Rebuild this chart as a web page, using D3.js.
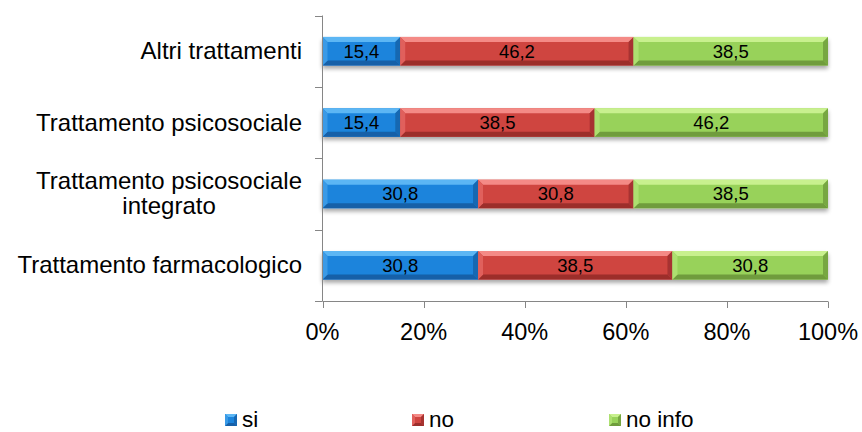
<!DOCTYPE html>
<html>
<head>
<meta charset="utf-8">
<script src="https://cdn.jsdelivr.net/npm/d3@7"></script>
<style>
  html, body { margin: 0; padding: 0; background: #fff; }
  svg { display: block; font-family: "Liberation Sans", Arial, sans-serif; }
</style>
</head>
<body>
<svg id="chart" width="862" height="432"></svg>
<script>
// Categories, top to bottom
const categories = [
  "Altri trattamenti",
  "Trattamento psicosociale",
  "Trattamento psicosociale integrato",
  "Trattamento farmacologico"
];
const seriesNames = ["si", "no", "no info"];
const siValues     = [15.4, 15.4, 30.8, 30.8];
const noValues     = [46.2, 38.5, 30.8, 38.5];
const noInfoValues = [38.5, 46.2, 38.5, 30.8];
const tickLabels = ["0%", "20%", "40%", "60%", "80%", "100%"];

const colors = {
  "si":      { base: "#1b84dc", light: "#5cb6f4", dark: "#1660a8", side: "#3a9ae6" },
  "no":      { base: "#cf4440", light: "#f48a86", dark: "#9c2f2c", side: "#e0605c" },
  "no info": { base: "#98d25a", light: "#c8f08e", dark: "#6f9c3c", side: "#ade070" }
};

const svg = d3.select("#chart");
const x = d3.scaleLinear().domain([0, 1]).range([322.5, 828]);
const y = d3.scaleBand().domain(categories).range([15.5, 301]).paddingInner(0.6).paddingOuter(0.3);
const yTicks = d3.scaleBand().domain(categories).range([15.5, 301]);

// Soft shadow under each bar
const defs = svg.append("defs");
const f = defs.append("filter").attr("id", "shadow").attr("x", "-5%").attr("y", "-20%").attr("width", "110%").attr("height", "160%");
f.append("feGaussianBlur").attr("in", "SourceAlpha").attr("stdDeviation", 2);
f.append("feOffset").attr("dx", 0).attr("dy", 3).attr("result", "b");
f.append("feComponentTransfer").append("feFuncA").attr("type", "linear").attr("slope", 0.35);
const fm = f.append("feMerge");
fm.append("feMergeNode");
fm.append("feMergeNode").attr("in", "SourceGraphic");

// Build stacked rows
const rows = categories.map((c, i) => ({ cat: c, si: siValues[i], no: noValues[i], "no info": noInfoValues[i] }));
const stack = d3.stack().keys(seriesNames);
const stacked = stack(rows);
// total per row for normalization (100% stacked)
const totals = rows.map(r => r.si + r.no + r["no info"]);

const bev = 5;
function drawBevelRect(g, x0, y0, w, h, c, bSize) {
  const b = Math.min(bSize || bev, w / 2, h / 2);
  g.append("rect").attr("x", x0).attr("y", y0).attr("width", w).attr("height", h).attr("fill", c.base);
  // top
  g.append("path").attr("d", `M${x0},${y0}L${x0 + w},${y0}L${x0 + w - b},${y0 + b}L${x0 + b},${y0 + b}Z`).attr("fill", c.light);
  // bottom
  g.append("path").attr("d", `M${x0},${y0 + h}L${x0 + w},${y0 + h}L${x0 + w - b},${y0 + h - b}L${x0 + b},${y0 + h - b}Z`).attr("fill", c.dark);
  // left
  g.append("path").attr("d", `M${x0},${y0}L${x0 + b},${y0 + b}L${x0 + b},${y0 + h - b}L${x0},${y0 + h}Z`).attr("fill", c.side);
  // right
  g.append("path").attr("d", `M${x0 + w},${y0}L${x0 + w - b},${y0 + b}L${x0 + w - b},${y0 + h - b}L${x0 + w},${y0 + h}Z`).attr("fill", c.dark).attr("opacity", 0.8);
}

const barsG = svg.append("g");
categories.forEach((cat, i) => {
  const rowG = barsG.append("g").attr("filter", "url(#shadow)");
  stacked.forEach(s => {
    const d = s[i];
    const x0 = x(d[0] / totals[i]);
    const x1 = x(d[1] / totals[i]);
    drawBevelRect(rowG, x0, y(cat), x1 - x0, y.bandwidth(), colors[s.key]);
  });
});

// Data labels
const fmt = v => v.toFixed(1).replace(".", ",");
categories.forEach((cat, i) => {
  stacked.forEach(s => {
    const d = s[i];
    const cx = (x(d[0] / totals[i]) + x(d[1] / totals[i])) / 2;
    svg.append("text")
      .attr("x", cx).attr("y", y(cat) + y.bandwidth() / 2 + 6.5)
      .attr("text-anchor", "middle").attr("font-size", 18.5).attr("fill", "#000")
      .text(fmt(d.data[s.key]));
  });
});

// Axes
const axisColor = "#868686";
// Y axis line and ticks
svg.append("line").attr("x1", 322.5).attr("x2", 322.5).attr("y1", 15.5).attr("y2", 301).attr("stroke", axisColor);
const yBounds = categories.map(c => yTicks(c)).concat([301]);
yBounds.forEach(v => {
  svg.append("line").attr("x1", 315).attr("x2", 322.5).attr("y1", Math.round(v) + 0.5).attr("y2", Math.round(v) + 0.5).attr("stroke", axisColor);
});
// X axis
svg.append("line").attr("x1", 322.5).attr("x2", 828).attr("y1", 301.5).attr("y2", 301.5).attr("stroke", axisColor);
tickLabels.forEach((t, i) => {
  const xv = Math.round(x(i / 5)) + 0.5;
  svg.append("line").attr("x1", xv).attr("x2", xv).attr("y1", 301.5).attr("y2", 308).attr("stroke", axisColor);
  svg.append("text").attr("x", x(i / 5)).attr("y", 340).attr("text-anchor", "middle")
    .attr("font-size", 23.5).attr("fill", "#000").text(t);
});

// Category labels, right-aligned; a wrapped label is centred on its widest line
const catLines = {
  "Altri trattamenti": ["Altri trattamenti"],
  "Trattamento psicosociale": ["Trattamento psicosociale"],
  "Trattamento psicosociale integrato": ["Trattamento psicosociale", "integrato"],
  "Trattamento farmacologico": ["Trattamento farmacologico"]
};
const labelRight = 302;
categories.forEach(cat => {
  const lines = catLines[cat];
  const cy = y(cat) + y.bandwidth() / 2;
  const lh = 25;
  const g = svg.append("g");
  const texts = lines.map((l, k) => g.append("text")
    .attr("font-size", 24).attr("fill", "#000")
    .attr("y", cy + 8 + (k - (lines.length - 1) / 2) * lh)
    .text(l));
  const widths = texts.map(t => t.node().getComputedTextLength());
  const maxW = d3.max(widths);
  const cx = labelRight - maxW / 2;
  texts.forEach(t => t.attr("x", cx).attr("text-anchor", "middle"));
});

// Legend
const legendPos = [225, 412, 609];
seriesNames.forEach((name, i) => {
  const g = svg.append("g");
  drawBevelRect(g, legendPos[i], 414, 12, 12, colors[name], 3);
  svg.append("text").attr("x", legendPos[i] + 17).attr("y", 426.5).attr("font-size", 22.5).attr("fill", "#000").text(name);
});
</script>
</body>
</html>
